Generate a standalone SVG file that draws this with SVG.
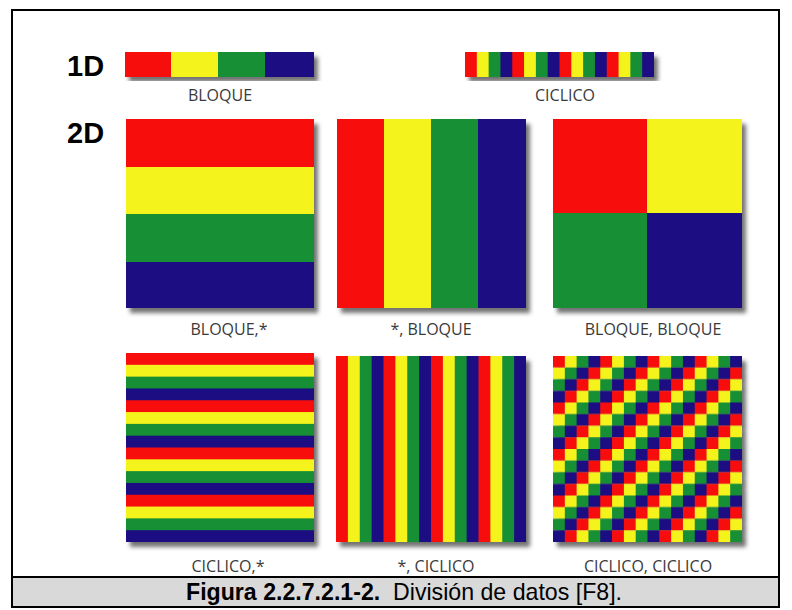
<svg xmlns="http://www.w3.org/2000/svg" width="792" height="610" viewBox="0 0 792 610">
<style>
.lbl{font-family:"Open Sans","Liberation Sans",sans-serif;font-size:16px;fill:#3a3a3a;text-anchor:middle}
.dim{font-family:"Liberation Sans",Arial,sans-serif;font-size:29px;font-weight:bold;fill:#000}
.r{fill:#f80c10}.y{fill:#f4f41a}.g{fill:#178f35}.b{fill:#1b0c82}
</style>
<defs>
<filter id="sh" x="-10%" y="-10%" width="125%" height="125%">
<feDropShadow dx="4" dy="5" stdDeviation="2.2" flood-color="#444" flood-opacity="0.75"/>
</filter>
<pattern id="hstr" patternUnits="userSpaceOnUse" width="1" height="4" patternTransform="translate(126,353) scale(188,11.8125)">
<rect class="r" x="0" y="0" width="1" height="1"/><rect class="y" x="0" y="1" width="1" height="1"/><rect class="g" x="0" y="2" width="1" height="1"/><rect class="b" x="0" y="3" width="1" height="1"/>
</pattern>
<pattern id="vstr" patternUnits="userSpaceOnUse" width="4" height="1" patternTransform="translate(336,356) scale(11.875,186)">
<rect class="r" x="0" y="0" width="1" height="1"/><rect class="y" x="1" y="0" width="1" height="1"/><rect class="g" x="2" y="0" width="1" height="1"/><rect class="b" x="3" y="0" width="1" height="1"/>
</pattern>
<pattern id="vstr1d" patternUnits="userSpaceOnUse" width="4" height="1" patternTransform="translate(465,52) scale(11.8125,25)">
<rect class="r" x="0" y="0" width="1" height="1"/><rect class="y" x="1" y="0" width="1" height="1"/><rect class="g" x="2" y="0" width="1" height="1"/><rect class="b" x="3" y="0" width="1" height="1"/>
</pattern>
<pattern id="chk" patternUnits="userSpaceOnUse" width="4" height="4" patternTransform="translate(553,356) scale(11.8125,11.625)">
<rect class="r" x="0" y="0" width="1" height="1"/><rect class="y" x="1" y="0" width="1" height="1"/><rect class="g" x="2" y="0" width="1" height="1"/><rect class="b" x="3" y="0" width="1" height="1"/>
<rect class="y" x="0" y="1" width="1" height="1"/><rect class="g" x="1" y="1" width="1" height="1"/><rect class="b" x="2" y="1" width="1" height="1"/><rect class="r" x="3" y="1" width="1" height="1"/>
<rect class="g" x="0" y="2" width="1" height="1"/><rect class="b" x="1" y="2" width="1" height="1"/><rect class="r" x="2" y="2" width="1" height="1"/><rect class="y" x="3" y="2" width="1" height="1"/>
<rect class="b" x="0" y="3" width="1" height="1"/><rect class="r" x="1" y="3" width="1" height="1"/><rect class="y" x="2" y="3" width="1" height="1"/><rect class="g" x="3" y="3" width="1" height="1"/>
</pattern>
</defs>
<rect x="0" y="0" width="792" height="610" fill="#fff"/>
<g id="frame">
<rect x="12" y="10" width="767" height="597" fill="#fff" stroke="#000" stroke-width="2"/>
</g>
<g id="label-1d"><text class="dim" x="67" y="76">1D</text></g>
<g id="label-2d"><text class="dim" x="67" y="143">2D</text></g>
<g id="bloque-1d">
<g filter="url(#sh)">
<rect class="r" x="125" y="52" width="46" height="25"/><rect class="y" x="171" y="52" width="47" height="25"/><rect class="g" x="218" y="52" width="47" height="25"/><rect class="b" x="265" y="52" width="49" height="25"/>
</g>
<text class="lbl" x="220" y="101">BLOQUE</text>
</g>
<g id="ciclico-1d">
<rect x="465" y="52" width="189" height="25" fill="url(#vstr1d)" filter="url(#sh)"/>
<text class="lbl" x="565" y="101">CICLICO</text>
</g>
<g id="bloque-star">
<g filter="url(#sh)">
<rect class="r" x="126" y="119" width="188" height="48"/><rect class="y" x="126" y="167" width="188" height="47"/><rect class="g" x="126" y="214" width="188" height="48"/><rect class="b" x="126" y="262" width="188" height="46"/>
</g>
<text class="lbl" x="229" y="335">BLOQUE,*</text>
</g>
<g id="star-bloque">
<g filter="url(#sh)">
<rect class="r" x="337" y="119" width="47" height="189"/><rect class="y" x="384" y="119" width="47" height="189"/><rect class="g" x="431" y="119" width="47" height="189"/><rect class="b" x="478" y="119" width="48" height="189"/>
</g>
<text class="lbl" x="431" y="335">*, BLOQUE</text>
</g>
<g id="bloque-bloque">
<g filter="url(#sh)">
<rect class="r" x="553" y="119" width="94" height="94"/><rect class="y" x="647" y="119" width="95" height="94"/><rect class="g" x="553" y="213" width="94" height="95"/><rect class="b" x="647" y="213" width="95" height="95"/>
</g>
<text class="lbl" x="653" y="335">BLOQUE, BLOQUE</text>
</g>
<g id="ciclico-star">
<rect x="126" y="353" width="188" height="189" fill="url(#hstr)" filter="url(#sh)"/>
<text class="lbl" x="228" y="572">CICLICO,*</text>
</g>
<g id="star-ciclico">
<rect x="336" y="356" width="190" height="186" fill="url(#vstr)" filter="url(#sh)"/>
<text class="lbl" x="436" y="572">*, CICLICO</text>
</g>
<g id="ciclico-ciclico">
<rect x="553" y="356" width="189" height="186" fill="url(#chk)" filter="url(#sh)"/>
<text class="lbl" x="648" y="572">CICLICO, CICLICO</text>
</g>
<g id="caption">
<rect x="12" y="577" width="767" height="30" fill="#d9d9d9" stroke="#000" stroke-width="2"/>
<text x="186" y="600" font-family="'Liberation Sans',Arial,sans-serif" font-size="24" fill="#000" style="white-space:pre" textLength="436" lengthAdjust="spacingAndGlyphs"><tspan font-weight="bold">Figura 2.2.7.2.1-2.</tspan>  División de datos [F8].</text>
</g>
</svg>
